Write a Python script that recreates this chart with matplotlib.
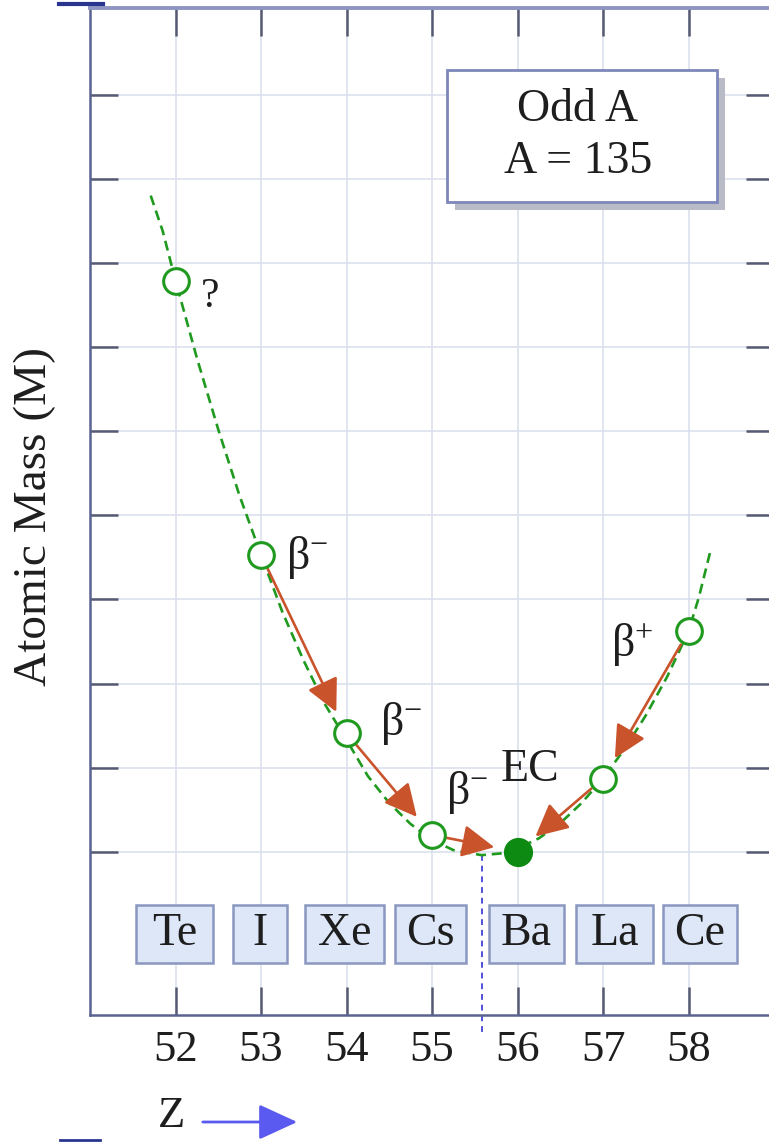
import matplotlib
matplotlib.use("Agg")
import matplotlib.pyplot as plt
from matplotlib.patches import Rectangle, FancyArrowPatch
from matplotlib.lines import Line2D

plt.rcParams['font.family'] = ['Liberation Serif', 'DejaVu Serif']
plt.rcParams['mathtext.fontset'] = 'custom'
plt.rcParams['mathtext.rm'] = 'Liberation Serif'
plt.rcParams['mathtext.it'] = 'Liberation Serif:italic'
plt.rcParams['mathtext.default'] = 'regular'

# isobars A = 135
elements = ['Te', 'I', 'Xe', 'Cs', 'Ba', 'La', 'Ce']
Z = [52, 53, 54, 55, 56, 57, 58]
M = [8.79, 5.53, 3.41, 2.20, 2.00, 2.87, 4.62]

# dashed mass parabola
curve_z = [51.71, 51.85, 52.0, 52.25, 52.5, 52.75, 53.0, 53.25, 53.5, 53.75,
           54.0, 54.25, 54.5, 54.75, 55.0, 55.25, 55.58, 55.8, 56.0, 56.25,
           56.5, 56.75, 57.0, 57.25, 57.5, 57.75, 58.0, 58.12, 58.25]
curve_m = [9.80, 9.38, 8.79, 7.87, 7.02, 6.23, 5.53, 4.85, 4.27, 3.75,
           3.33, 2.90, 2.58, 2.33, 2.14, 2.02, 1.96, 1.98, 2.04, 2.16,
           2.34, 2.58, 2.87, 3.22, 3.62, 4.08, 4.62, 5.02, 5.55]
z_min = 55.58

# decays: source -> target
decay_from = ['I', 'Xe', 'Cs', 'Ce', 'La']
decay_to = ['Xe', 'Cs', 'Ba', 'La', 'Ba']
decay_labels = [r'$\beta^{-}$', r'$\beta^{-}$', r'$\beta^{-}$', r'$\beta^{+}$', 'EC']

grid_c = '#dbe0ec'
spine_c = '#5a6390'
green = '#1f9a1f'
arrow_c = '#c9532b'
txt_c = '#1e1e1e'

fig = plt.figure(figsize=(7.69, 11.42), dpi=100)
ax = fig.add_axes([90/769, 1-1015/1142, 684/769, 1007/1142])
ax.set_xlim(51, 59)
ax.set_ylim(0.06, 12.03)

ax.set_xticks(Z)
ax.set_xticklabels([str(z) for z in Z])
ax.set_yticks(range(2, 12))
ax.set_yticklabels([])
ax.tick_params(direction='in', length=20, width=1.8, color='#555a72',
               top=True, right=True, labelsize=32, pad=11, labelcolor=txt_c)
ax.grid(True, color=grid_c, lw=1.2)
ax.set_axisbelow(True)
for s in ['left', 'bottom']:
    ax.spines[s].set_color(spine_c)
    ax.spines[s].set_linewidth(1.8)
ax.spines['top'].set_color('#8d96c2')
ax.spines['top'].set_linewidth(2.8)
ax.spines['right'].set_color(spine_c)

# curve
ax.plot(curve_z, curve_m, color=green, lw=1.9, ls=(0, (3.8, 2.2)), zorder=3)
ax.plot([z_min, z_min], [1.96, -0.14], color='#5050dd', lw=1.4,
        ls=(0, (3, 2.5)), clip_on=False, zorder=2)

# decay arrows
idx = {e: i for i, e in enumerate(elements)}
for a, b in zip(decay_from, decay_to):
    ax.annotate('', xy=(Z[idx[b]], M[idx[b]]), xytext=(Z[idx[a]], M[idx[a]]),
                arrowprops=dict(arrowstyle='-|>,head_length=1.0,head_width=0.5',
                                color=arrow_c, lw=1.9, shrinkA=11, shrinkB=17,
                                mutation_scale=20), zorder=4)

# points
open_z = [z for e, z in zip(elements, Z) if e != 'Ba']
open_m = [m for e, m in zip(elements, M) if e != 'Ba']
ax.plot(open_z, open_m, 'o', ms=18.5, mfc='white', mec=green, mew=2.2, zorder=5)
ax.plot(Z[idx['Ba']], M[idx['Ba']], 'o', ms=20, color='#0c8a12', zorder=5)

# decay labels
label_pos = [(53.29, 5.50), (54.39, 3.53), (55.16, 2.71), (57.09, 4.46), (55.80, 2.98)]
for lab, (x, y) in zip(decay_labels, label_pos):
    ax.text(x, y, lab, fontsize=33, ha='left', va='center', color=txt_c, zorder=6)
ax.text(52.41, 8.60, '?', fontsize=30, ha='center', va='center', color=txt_c)

# element boxes
box_x = [(51.54, 52.44), (52.67, 53.30), (53.51, 54.44), (54.57, 55.40),
         (55.67, 56.54), (56.69, 57.58), (57.70, 58.57)]
for el, (x0, x1) in zip(elements, box_x):
    ax.add_patch(Rectangle((x0, 0.68), x1 - x0, 0.69, facecolor='#dde7f8',
                           edgecolor='#8a97c0', lw=1.8, zorder=3))
    ax.text((x0 + x1) / 2, 1.02, el, fontsize=33, ha='center', va='center',
            color=txt_c, zorder=4)

# Odd A box with shadow
fig.patches.append(Rectangle((455/769, 1-210/1142), 270/769, 132/1142,
                             transform=fig.transFigure, facecolor='#b9bcc6',
                             edgecolor='none', zorder=5))
fig.patches.append(Rectangle((447/769, 1-202/1142), 270/769, 132/1142,
                             transform=fig.transFigure, facecolor='white',
                             edgecolor='#7d87ba', lw=2, zorder=6))
fig.text(578/769, 1-110/1142, 'Odd A', fontsize=33, ha='center', va='center',
         color=txt_c, zorder=7)
fig.text(578/769, 1-162/1142, 'A = 135', fontsize=33, ha='center', va='center',
         color=txt_c, zorder=7)

# axis labels
fig.text(35/769, 1-517/1142, 'Atomic Mass (M)', fontsize=34, rotation=90,
         ha='center', va='center', color=txt_c)
fig.text(172/769, 1-1116/1142, 'Z', fontsize=32, ha='center', va='center',
         color=txt_c)
fig.patches.append(FancyArrowPatch(
    (200/769, 1-1122/1142), (300/769, 1-1122/1142), transform=fig.transFigure,
    arrowstyle='-|>,head_length=1.2,head_width=0.55', mutation_scale=20,
    color='#5a5af0', lw=2))

# stray edge marks of the original slide
fig.lines.append(Line2D([59/769, 103/769], [1-4/1142, 1-4/1142],
                        transform=fig.transFigure, color='#2a3590', lw=3))
fig.lines.append(Line2D([60/769, 100/769], [1-1140/1142, 1-1140/1142],
                        transform=fig.transFigure, color='#2a3590', lw=2))

fig.savefig('out.png', dpi=100, facecolor='white')
